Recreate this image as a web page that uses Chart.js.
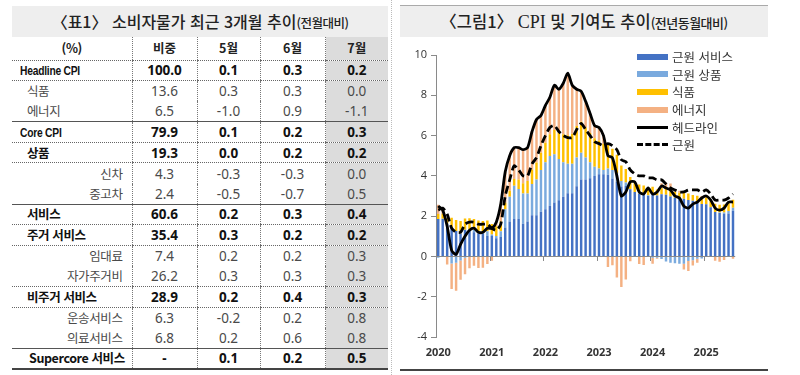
<!DOCTYPE html>
<html lang="ko">
<head>
<meta charset="utf-8">
<script src="https://cdn.jsdelivr.net/npm/chart.js@4.4.1/dist/chart.umd.min.js"></script>
<style>
    body { margin: 0; width: 800px; height: 375px; background: #fff; position: relative; overflow: hidden; font-family: "Noto Sans CJK KR", "Noto Sans", sans-serif; color: #222; }
    .titulo { position: absolute; top: 6px; height: 31px; line-height: 31px; background: #eeeeee; text-align: center; font-weight: 500; white-space: nowrap; }
    .titulo small { font-size: 12.5px; letter-spacing: -0.5px; }
    #titulo-tabla { left: 12px; width: 376px; font-size: 16px; }
    #titulo-grafico { left: 400px; width: 368px; font-size: 16.5px; border-top: 1px solid #aaa; top: 5px; }
    #titulo-grafico small { font-size: 13px; }
    #titulo-grafico .serif { font-family: "Liberation Serif", serif; font-size: 18px; font-weight: 400; }
    #separador { position: absolute; left: 391px; top: 0; height: 375px; border-left: 1px dotted #bbb; }
    #tabla { position: absolute; left: 12px; top: 37px; border-collapse: collapse; table-layout: fixed; }
    #tabla td { padding: 0; height: 20.6px; line-height: 16px; box-sizing: border-box; overflow: hidden; white-space: nowrap; font-size: 13.5px; text-align: center; border-left: 1px dotted #777; font-family: "Noto Sans", "Noto Sans CJK KR", sans-serif; }
    #tabla td:first-child { border-left: none; text-align: left; font-family: "Noto Sans CJK KR", sans-serif; font-size: 12.5px; letter-spacing: -0.4px; }
    #tabla tr.cab td { height: 23px; font-weight: 700; font-size: 12.5px; font-family: "Noto Sans CJK KR", sans-serif; }
    #tabla td.gris { background: #dcdcdc; }
    #tabla tr.negrita td { font-weight: 700; color: #111; }
    #tabla tr.normal td { color: #4a4a4a; }
    .narrow { display: inline-block; transform: scaleX(0.76); transform-origin: left center; font-family: "Liberation Sans", sans-serif; letter-spacing: -0.3px; font-size: 13.5px; }
    #tabla tr.punteada td { border-bottom: 1px dotted #666; }
    #tabla tr.solida td { border-bottom: 1px solid #555; }
    #tabla tr.final td { border-bottom: 2px solid #444; }
    #linea-final { position: absolute; left: 400px; top: 369px; width: 368px; border-top: 2px solid #444; }
    #grafico { position: absolute; left: 400px; top: 40px; }
    #leyenda { position: absolute; left: 637px; top: 48px; font-size: 12.5px; color: #333; }
    .item { height: 17.6px; display: flex; align-items: center; }
    .muestra { width: 31px; margin-right: 4px; }
</style>
</head>
<body>
<div id="separador"></div>
<div class="titulo" id="titulo-tabla">〈표1〉 소비자물가 최근 3개월 추이<small>(전월대비)</small></div>
<div class="titulo" id="titulo-grafico">〈그림1〉 <span class="serif">CPI</span> 및 기여도 추이<small>(전년동월대비)</small></div>
<table id="tabla"></table>
<canvas id="grafico" width="342" height="330"></canvas>
<div id="leyenda"></div>
<div id="linea-final"></div>
<script>
    // tabla 1: variacion mensual (%)
    const encabezados = ['(%)', '비중', '5월', '6월', '7월'];
    const filas = ['Headline CPI', '식품', '에너지', 'Core CPI', '상품', '신차', '중고차', '서비스', '주거 서비스', '임대료', '자가주거비', '비주거 서비스', '운송서비스', '의료서비스', 'Supercore 서비스'];
    const pesos = ['100.0', '13.6', '6.5', '79.9', '19.3', '4.3', '2.4', '60.6', '35.4', '7.4', '26.2', '28.9', '6.3', '6.8', '-'];
    const mayo = ['0.1', '0.3', '-1.0', '0.1', '0.0', '-0.3', '-0.5', '0.2', '0.3', '0.2', '0.3', '0.2', '-0.2', '0.2', '0.1'];
    const junio = ['0.3', '0.3', '0.9', '0.2', '0.2', '-0.3', '-0.7', '0.3', '0.2', '0.2', '0.3', '0.4', '0.2', '0.6', '0.2'];
    const julio = ['0.2', '0.0', '-1.1', '0.3', '0.2', '0.0', '0.5', '0.4', '0.2', '0.3', '0.3', '0.3', '0.8', '0.8', '0.5'];

    // grafico 1: contribuciones al IPC interanual (%p)
    const anios = ['2020', '2021', '2022', '2023', '2024', '2025'];
    const servicios = [
        1.86, 1.86, 1.62, 1.44, 1.26, 1.14, 1.32, 1.26, 1.20, 1.14, 1.14, 1.02,
        1.02, 0.90, 0.96, 1.44, 1.74, 1.86, 1.86, 1.62, 1.74, 2.04, 2.04, 2.22,
        2.34, 2.51, 2.68, 2.79, 2.96, 3.14, 3.14, 3.48, 3.82, 3.82, 3.88, 3.99,
        4.08, 4.08, 4.05, 3.87, 3.71, 3.47, 3.50, 3.33, 3.20, 3.12, 3.12, 3.00,
        3.10, 3.02, 3.09, 3.06, 2.97, 2.91, 2.86, 2.86, 2.80, 2.76, 2.68, 2.60,
        2.59, 2.44, 2.20, 2.16, 2.12, 2.13, 2.27
    ];
    const bienes = [
        -0.07, 0.01, 0.02, -0.35, -0.32, -0.20, -0.07, 0.07, 0.13, 0.11, 0.11, 0.23,
        0.07, 0.11, 0.29, 0.90, 1.22, 1.65, 1.49, 1.50, 1.38, 1.55, 1.78, 2.07,
        2.34, 2.48, 2.39, 2.05, 1.72, 1.46, 1.46, 1.43, 1.33, 1.09, 0.80, 0.46,
        0.29, 0.21, 0.32, 0.42, 0.42, 0.27, 0.17, 0.02, 0.00, 0.00, 0.00, 0.04,
        -0.06, -0.06, -0.13, -0.25, -0.32, -0.34, -0.36, -0.36, -0.23, -0.19, -0.11, -0.10,
        -0.02, -0.02, -0.02, 0.02, 0.06, 0.13, 0.15
    ];
    const alimentos = [
        0.25, 0.25, 0.26, 0.48, 0.55, 0.62, 0.56, 0.56, 0.53, 0.53, 0.51, 0.53,
        0.52, 0.49, 0.48, 0.33, 0.30, 0.33, 0.47, 0.51, 0.63, 0.73, 0.84, 0.86,
        0.96, 1.08, 1.21, 1.29, 1.38, 1.42, 1.49, 1.56, 1.53, 1.49, 1.45, 1.42,
        1.38, 1.30, 1.16, 1.05, 0.92, 0.78, 0.67, 0.59, 0.51, 0.45, 0.40, 0.37,
        0.36, 0.30, 0.30, 0.30, 0.29, 0.30, 0.30, 0.29, 0.32, 0.29, 0.33, 0.34,
        0.34, 0.36, 0.41, 0.38, 0.40, 0.41, 0.40
    ];
    const energia = [
        0.46, 0.18, -0.40, -1.27, -1.39, -0.96, -0.81, -0.59, -0.46, -0.58, -0.56, -0.38,
        -0.21, 0.20, 0.87, 1.53, 1.74, 1.56, 1.58, 1.67, 1.65, 1.88, 2.14, 1.85,
        1.86, 1.83, 2.22, 2.17, 2.54, 3.08, 2.41, 1.83, 1.52, 1.30, 0.97, 0.63,
        0.65, 0.41, -0.53, -0.44, -1.05, -1.52, -1.14, -0.24, -0.01, -0.37, -0.42, -0.01,
        -0.30, -0.06, 0.24, 0.29, 0.36, 0.13, 0.10, -0.29, -0.49, -0.26, -0.20, 0.06,
        0.09, 0.02, -0.19, -0.26, -0.18, 0.03, -0.12
    ];
    const general = [
        2.5, 2.3, 1.5, 0.3, 0.1, 0.6, 1.0, 1.3, 1.4, 1.2, 1.2, 1.4,
        1.4, 1.7, 2.6, 4.2, 5.0, 5.4, 5.4, 5.3, 5.4, 6.2, 6.8, 7.0,
        7.5, 7.9, 8.5, 8.3, 8.6, 9.1, 8.5, 8.3, 8.2, 7.7, 7.1, 6.5,
        6.4, 6.0, 5.0, 4.9, 4.0, 3.0, 3.2, 3.7, 3.7, 3.2, 3.1, 3.4,
        3.1, 3.2, 3.5, 3.4, 3.3, 3.0, 2.9, 2.5, 2.4, 2.6, 2.7, 2.9,
        3.0, 2.8, 2.4, 2.3, 2.4, 2.7, 2.7
    ];
    const subyacente = [
        2.3, 2.4, 2.1, 1.4, 1.2, 1.2, 1.6, 1.7, 1.7, 1.6, 1.6, 1.6,
        1.4, 1.3, 1.6, 3.0, 3.8, 4.5, 4.3, 4.0, 4.0, 4.6, 4.9, 5.5,
        6.0, 6.4, 6.5, 6.2, 6.0, 5.9, 5.9, 6.3, 6.6, 6.3, 6.0, 5.7,
        5.6, 5.5, 5.6, 5.5, 5.3, 4.8, 4.7, 4.3, 4.1, 4.0, 4.0, 3.9,
        3.9, 3.8, 3.8, 3.6, 3.4, 3.3, 3.2, 3.2, 3.3, 3.3, 3.3, 3.2,
        3.3, 3.1, 2.8, 2.8, 2.8, 2.9, 3.1
    ];

    const meses = [];
    anios.forEach(a => {
        for (let m = 1; m <= 12; m++) meses.push(a + '-' + String(m).padStart(2, '0'));
    });
    meses.length = general.length;

    // estilo de cada fila: clase de peso, sangria, linea inferior
    const tipoFila = ['b0', 'n1', 'n1', 'b0', 'b1', 'nr', 'nr', 'b1', 'b1', 'nr', 'nr', 'b1', 'nr', 'nr', 'b1'];
    const lineaFila = ['punteada', '', 'solida', 'punteada', 'punteada', '', 'solida', 'punteada', 'punteada', '', 'punteada', 'punteada', '', 'solida', 'final'];
    const anchos = [120, 65, 63, 65, 63];

    (function () {
        const tabla = document.querySelector('#tabla');

        const cab = document.createElement('TR');
        cab.className = 'cab punteada';
        encabezados.forEach((t, i) => {
            const td = document.createElement('TD');
            td.textContent = t;
            td.style.width = anchos[i] + 'px';
            td.style.textAlign = 'center';
            if (i === 4) td.className = 'gris';
            cab.appendChild(td);
        });
        tabla.appendChild(cab);

        filas.forEach((nombre, i) => {
            const tr = document.createElement('TR');
            const tipo = tipoFila[i];
            tr.className = (tipo[0] === 'b' ? 'negrita ' : 'normal ') + lineaFila[i];
            const celdas = [nombre, pesos[i], mayo[i], junio[i], julio[i]];
            celdas.forEach((t, j) => {
                const td = document.createElement('TD');
                if (j === 0) {
                    if (nombre.indexOf('CPI') >= 0) {
                        td.innerHTML = '<span class="narrow">' + nombre + '</span>';
                        td.style.paddingLeft = '8px';
                    } else {
                        td.textContent = nombre;
                        if (tipo === 'nr') {
                            td.style.textAlign = 'right';
                            td.style.paddingRight = '9px';
                        } else {
                            td.style.paddingLeft = (nombre.indexOf('Supercore') >= 0 ? 17 : 15) + 'px';
                        }
                    }
                } else {
                    td.textContent = t;
                }
                if (j === 4) td.className = 'gris';
                tr.appendChild(td);
            });
            tabla.appendChild(tr);
        });
    })();

    const colores = ['#4472c4', '#7aaade', '#ffc000', '#f4b183'];
    const nombresSerie = ['근원 서비스', '근원 상품', '식품', '에너지', '헤드라인', '근원'];

    const leyenda = document.querySelector('#leyenda');
    nombresSerie.forEach((n, i) => {
        const item = document.createElement('DIV');
        item.className = 'item';
        const m = document.createElement('DIV');
        m.className = 'muestra';
        if (i < 4) {
            m.style.height = '6px';
            m.style.background = colores[i];
        } else if (i === 4) {
            m.style.borderTop = '3px solid #000';
        } else {
            m.style.borderTop = '3px dashed #000';
        }
        item.appendChild(m);
        const s = document.createElement('SPAN');
        s.textContent = n;
        item.appendChild(s);
        leyenda.appendChild(item);
    });

    const marcasAnio = {
        id: 'marcasAnio',
        afterDatasetsDraw(chart) {
            const x = chart.scales.x;
            const y0 = chart.scales.y.getPixelForValue(0);
            const ctx = chart.ctx;
            ctx.save();
            ctx.strokeStyle = '#8a8a8a';
            ctx.lineWidth = 1;
            ctx.beginPath();
            ctx.moveTo(chart.chartArea.left, Math.round(y0) + 0.5);
            ctx.lineTo(chart.chartArea.right, Math.round(y0) + 0.5);
            meses.forEach((m, i) => {
                if (i > 0 && m.endsWith('-01')) {
                    const px = Math.round((x.getPixelForValue(i - 1) + x.getPixelForValue(i)) / 2) + 0.5;
                    ctx.moveTo(px, Math.round(y0));
                    ctx.lineTo(px, Math.round(y0) + 5);
                }
            });
            ctx.stroke();
            ctx.restore();
        }
    };

    const barra = (i, datos) => ({
        type: 'bar',
        label: nombresSerie[i],
        data: datos,
        backgroundColor: colores[i],
        stack: 'barras',
        order: 2,
        barPercentage: 0.55,
        categoryPercentage: 1
    });

    const ctx = document.querySelector('#grafico').getContext('2d');
    new Chart(ctx, {
        data: {
            labels: meses,
            datasets: [
                barra(0, servicios),
                barra(1, bienes),
                barra(2, alimentos),
                barra(3, energia),
                {
                    type: 'line', label: nombresSerie[4], data: general, stack: 'h', order: 0,
                    borderColor: '#000', borderWidth: 2.8, pointRadius: 0, tension: 0.25
                },
                {
                    type: 'line', label: nombresSerie[5], data: subyacente, stack: 'c', order: 1,
                    borderColor: '#000', borderWidth: 2.8, borderDash: [8, 4], pointRadius: 0, tension: 0.25
                }
            ]
        },
        options: {
            responsive: false,
            animation: false,
            layout: { padding: { top: 15, right: 0, left: 0, bottom: 0 } },
            plugins: {
                legend: { display: false },
                tooltip: { enabled: false }
            },
            scales: {
                x: {
                    stacked: true,
                    offset: true,
                    grid: { display: false, drawTicks: false },
                    border: { display: false },
                    ticks: {
                        autoSkip: false,
                        maxRotation: 0,
                        padding: 9,
                        color: '#333',
                        font: { family: 'Open Sans', size: 11, weight: 'bold' },
                        callback: function (v, i) {
                            return meses[i].endsWith('-01') ? meses[i].slice(0, 4) : '';
                        }
                    },
                    afterFit: s => { s.height = 33; }
                },
                y: {
                    stacked: true,
                    min: -4,
                    max: 10,
                    ticks: {
                        stepSize: 2,
                        padding: 4,
                        color: '#333',
                        font: { family: 'Open Sans', size: 11 }
                    },
                    grid: { drawOnChartArea: false, drawTicks: true, tickLength: 5, tickColor: '#8a8a8a' },
                    border: { display: true, color: '#8a8a8a' },
                    afterFit: s => { s.width = 36; }
                }
            }
        },
        plugins: [marcasAnio]
    });
</script>
</body>
</html>
